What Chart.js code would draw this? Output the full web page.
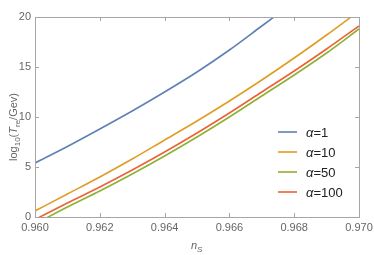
<!DOCTYPE html>
<html>
<head>
<meta charset="utf-8">
<script src="https://cdn.jsdelivr.net/npm/chart.js@4"></script>
<style>
  html, body { margin: 0; padding: 0; background: #fff; }
  #wrap { width: 374px; height: 255px; }
</style>
</head>
<body>
<div id="wrap"><canvas id="chart" width="374" height="255"></canvas></div>
<script>
// n_s values and log10(T_re/GeV)
const nsValues = [0.960, 0.961, 0.962, 0.963, 0.964, 0.965, 0.966, 0.967, 0.968, 0.969, 0.970];
const alpha1   = [5.4, 7.05, 8.8, 10.6, 12.5, 14.5, 16.7, 19.1, 21.5, null, null];
const alpha10  = [0.6, 2.3, 4.0, 5.8, 7.7, 9.6, 11.6, 13.7, 15.9, 18.2, 20.6];
const alpha50  = [-0.7, 1.0, 2.6, 4.3, 6.1, 8.0, 10.0, 12.1, 14.2, 16.4, 18.8];
const alpha100 = [-0.25, 1.4, 3.0, 4.7, 6.5, 8.4, 10.4, 12.5, 14.6, 16.8, 19.1];

const seriesLabels = ["α=1", "α=10", "α=50", "α=100"];
const seriesColors = ["#5e81b5", "#e19c24", "#8fb032", "#eb6235"];

const xTicks = [0.960, 0.962, 0.964, 0.966, 0.968, 0.970];
const yTicks = [0, 5, 10, 15, 20];

const allSeries = [alpha1, alpha10, alpha50, alpha100];

function pts(vals) {
    return nsValues.map((x, i) => ({ x: x, y: vals[i] })).filter(p => p.y !== null);
}

const frameAxes = {
    id: "frameAxes",
    afterDraw(chart) {
        const ctx = chart.ctx;
        const a = chart.chartArea;
        const xs = chart.scales.x;
        const ys = chart.scales.y;
        ctx.save();

        // frame
        ctx.strokeStyle = "#a6a6a6";
        ctx.lineWidth = 1;
        ctx.strokeRect(Math.round(a.left) + 0.5, Math.round(a.top) + 0.5,
            Math.round(a.right - a.left), Math.round(a.bottom - a.top));

        // inward ticks
        ctx.beginPath();
        xTicks.forEach(v => {
            const px = Math.round(xs.getPixelForValue(v)) + 0.5;
            ctx.moveTo(px, a.bottom); ctx.lineTo(px, a.bottom - 4);
            ctx.moveTo(px, a.top); ctx.lineTo(px, a.top + 4);
        });
        yTicks.forEach(v => {
            const py = Math.round(ys.getPixelForValue(v)) + 0.5;
            ctx.moveTo(a.left, py); ctx.lineTo(a.left + 4, py);
            ctx.moveTo(a.right, py); ctx.lineTo(a.right - 4, py);
        });
        ctx.stroke();

        // tick labels
        ctx.fillStyle = "#666";
        ctx.font = "11px 'Liberation Sans', Arial, sans-serif";
        ctx.textAlign = "center";
        ctx.textBaseline = "middle";
        xTicks.forEach(v => {
            ctx.fillText(v.toFixed(3), xs.getPixelForValue(v), a.bottom + 11);
        });
        ctx.textAlign = "right";
        yTicks.forEach(v => {
            ctx.fillText(String(v), a.left - 4, ys.getPixelForValue(v));
        });

        // x title: n_S
        ctx.textAlign = "left";
        ctx.textBaseline = "alphabetic";
        ctx.font = "italic 11px 'Liberation Sans', Arial, sans-serif";
        ctx.fillText("n", 191, 249);
        ctx.font = "italic 8px 'Liberation Sans', Arial, sans-serif";
        ctx.fillText("S", 197, 252);

        // y title: log10(T_re/Gev)
        ctx.translate(13, 127);
        ctx.rotate(-Math.PI / 2);
        const parts = [
            ["log", "11px", "", 0],
            ["10", "8px", "", 3],
            ["(", "11px", "", 0],
            ["T", "11px", "italic ", 0],
            ["re", "8px", "", 3],
            ["/Gev)", "11px", "", 0]
        ];
        let total = 0;
        parts.forEach(p => {
            ctx.font = p[2] + p[1] + " 'Liberation Sans', Arial, sans-serif";
            total += ctx.measureText(p[0]).width;
        });
        let cx = -total / 2;
        parts.forEach(p => {
            ctx.font = p[2] + p[1] + " 'Liberation Sans', Arial, sans-serif";
            ctx.fillText(p[0], cx, 4 + p[3]);
            cx += ctx.measureText(p[0]).width;
        });
        ctx.restore();

        // legend
        ctx.save();
        ctx.font = "13px 'Liberation Sans', Arial, sans-serif";
        ctx.textBaseline = "middle";
        chart.data.datasets.forEach((ds, i) => {
            const y = 132 + i * 20;
            ctx.strokeStyle = ds.borderColor;
            ctx.lineWidth = 1.6;
            ctx.beginPath();
            ctx.moveTo(278, y); ctx.lineTo(297, y);
            ctx.stroke();
            ctx.fillStyle = "#222";
            ctx.font = "italic 13px 'Liberation Sans', Arial, sans-serif";
            ctx.fillText("α", 306, y + 1);
            const w = ctx.measureText("α").width;
            ctx.font = "13px 'Liberation Sans', Arial, sans-serif";
            ctx.fillText(ds.label.slice(1), 306 + w, y + 1);
        });
        ctx.restore();
    }
};

new Chart(document.getElementById("chart"), {
    type: "line",
    data: {
        datasets: allSeries.map((vals, i) => ({
            label: seriesLabels[i],
            data: pts(vals),
            borderColor: seriesColors[i],
            backgroundColor: seriesColors[i],
            borderWidth: 1.6,
            pointRadius: 0,
            cubicInterpolationMode: "monotone",
            fill: false
        }))
    },
    options: {
        responsive: false,
        animation: false,
        devicePixelRatio: 1,
        layout: { padding: { left: 35, top: 17, right: 15, bottom: 38 } },
        plugins: { legend: { display: false }, tooltip: { enabled: false } },
        scales: {
            x: { type: "linear", min: 0.960, max: 0.970, display: false },
            y: { min: 0, max: 20, display: false }
        }
    },
    plugins: [frameAxes]
});
</script>
</body>
</html>
